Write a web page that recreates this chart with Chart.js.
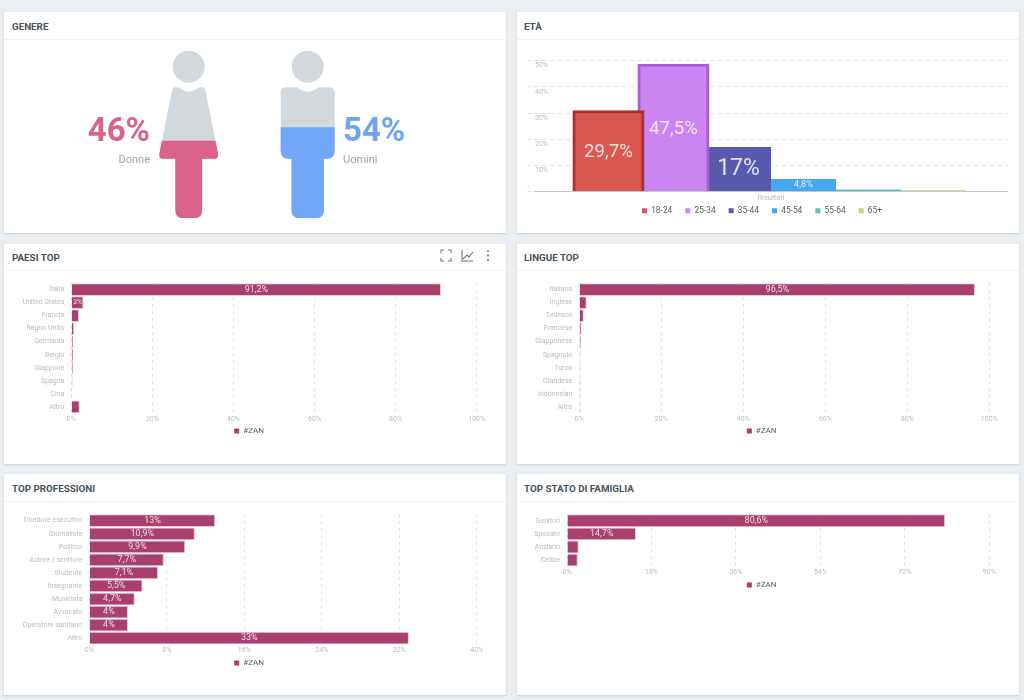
<!DOCTYPE html>
<html lang="it">
<head>
<meta charset="utf-8">
<title>Audience #ZAN</title>
<script src="https://cdn.jsdelivr.net/npm/chart.js@4"></script>
<style>
html, body { margin: 0; padding: 0; background: #ebeff2; overflow: hidden; }
body { width: 1024px; height: 700px; position: relative; font-family: Roboto, sans-serif; }
.card { position: absolute; background: #fff; box-shadow: 0 1px 2px rgba(90, 100, 110, .25); }
.card h2 { margin: 0; position: absolute; left: 8px; font-size: 9.8px; line-height: 12px; font-weight: 700; color: #48525a; white-space: nowrap; }
.card hr { margin: 0; border: 0; border-top: 1px solid #eff1f3; position: absolute; left: 0; right: 0; }
canvas { position: absolute; }
.big { position: absolute; font-size: 33px; line-height: 36px; font-weight: 700; }
.small { position: absolute; font-size: 11px; line-height: 14px; color: #9aa6b0; }
.icons { position: absolute; left: 440px; top: 249px; }
</style>
</head>
<body>

<div class="card" style="left:4px;top:12px;width:502px;height:221px"><h2 style="top:9px">GENERE</h2><hr style="top:27px"></div>
<div class="card" style="left:517px;top:12px;width:502px;height:221px"><h2 style="top:9px;left:7px">ETÀ</h2><hr style="top:27px"></div>
<div class="card" style="left:4px;top:244px;width:502px;height:220px"><h2 style="top:8px">PAESI TOP</h2><hr style="top:26px"></div>
<div class="card" style="left:517px;top:244px;width:502px;height:220px"><h2 style="top:8px;left:7px">LINGUE TOP</h2><hr style="top:26px"></div>
<div class="card" style="left:4px;top:474px;width:502px;height:221px"><h2 style="top:9px">TOP PROFESSIONI</h2><hr style="top:27px"></div>
<div class="card" style="left:517px;top:474px;width:502px;height:221px"><h2 style="top:9px;left:7px">TOP STATO DI FAMIGLIA</h2><hr style="top:27px"></div>

<svg class="icons" width="56" height="14" viewBox="0 0 56 14" fill="none" stroke="#6d7780" stroke-width="1.1">
  <path d="M1 4V1h3M8 1h3v3M11 9v3H8M4 12H1V9"/>
  <path d="M22 1v11h11M23 10l4-4 2 2 4-5"/>
  <g fill="#6d7780" stroke="none"><circle cx="48" cy="2" r="1.1"/><circle cx="48" cy="6.5" r="1.1"/><circle cx="48" cy="11" r="1.1"/></g>
</svg>

<canvas id="chartGenere" style="left:4px;top:41px"></canvas>
<div class="big" id="pctDonne" style="left:70px;width:80px;top:112px;text-align:right;color:#db6288"></div>
<div class="small" id="lblDonne" style="left:90px;width:60px;top:153px;text-align:right"></div>
<div class="big" id="pctUomini" style="left:343px;top:112px;color:#6ea4f8"></div>
<div class="small" id="lblUomini" style="left:343px;top:153px"></div>

<canvas id="chartEta" style="left:516px;top:41px"></canvas>
<canvas id="chartPaesi" style="left:4px;top:272px"></canvas>
<canvas id="chartLingue" style="left:517px;top:272px"></canvas>
<canvas id="chartProfessioni" style="left:4px;top:503px"></canvas>
<canvas id="chartFamiglia" style="left:517px;top:503px"></canvas>

<script>
// dati
const genereLabels = ['Donne', 'Uomini'];
const generePercent = [46, 54];
const genereFondo = [100, 100];

const etaLabels = ['18-24', '25-34', '35-44', '45-54', '55-64', '65+'];
const etaValues = [29.7, 47.5, 17, 4.8, 0.8, 0.5];
const etaColors = ['#da5850', '#cb84f1', '#5a59b0', '#46a8ef', '#58c6c0', '#c4d96c'];
const etaTicks = [0, 10, 20, 30, 40, 50];

const paesiLabels = ['Italia', 'United States', 'Francia', 'Regno Unito', 'Germania', 'Belgio', 'Giappone', 'Spagna', 'Cina', 'Altro'];
const paesiValues = [91.2, 3, 1.9, 0.7, 0.5, 0.5, 0.4, 0.3, 0.2, 2.1];

const lingueLabels = ['Italiano', 'Inglese', 'Tedesco', 'Francese', 'Giapponese', 'Spagnolo', 'Turco', 'Olandese', 'Indonesian', 'Altro'];
const lingueValues = [96.5, 1.8, 1.1, 0.55, 0.4, 0.3, 0.3, 0.3, 0.3, 0.3];

const professioniLabels = ['Direttore esecutivo', 'Giornalista', 'Politico', 'Autore / scrittore', 'Studente', 'Insegnante', 'Musicista', 'Avvocato', 'Operatore sanitario', 'Altro'];
const professioniValues = [13, 10.9, 9.9, 7.7, 7.1, 5.5, 4.7, 4, 4, 33];

const famigliaLabels = ['Genitori', 'Sposato', 'Anziano', 'Celibe'];
const famigliaValues = [80.6, 14.7, 2.5, 2.3];

const ZAN = '#a83f6d';
const TICK = '#b7bdc2';
Chart.defaults.font.family = 'Roboto, sans-serif';
Chart.defaults.animation = false;
Chart.defaults.devicePixelRatio = 1;

function setSize(id, w, h) {
    const c = document.getElementById(id);
    c.width = w;
    c.height = h;
    c.style.width = w + 'px';
    c.style.height = h + 'px';
    return c;
}

function pct(v) {
    return String(v).replace('.', ',') + '%';
}

// scrive il valore dentro la barra
const barLabels = {
    id: 'barLabels',
    afterDatasetsDraw(chart, args, opts) {
        const ctx = chart.ctx;
        ctx.save();
        ctx.textAlign = 'center';
        ctx.textBaseline = 'middle';
        ctx.fillStyle = 'rgba(255,255,255,.82)';
        chart.data.datasets.forEach(function(ds, d) {
            chart.getDatasetMeta(d).data.forEach(function(bar, i) {
                const v = ds.data[i];
                if (v < 3) return;
                const horizontal = chart.options.indexAxis === 'y';
                const len = horizontal ? bar.x - bar.base : bar.width;
                let size = opts.sizes ? opts.sizes[d] : opts.size;
                ctx.font = size + 'px Roboto, sans-serif';
                const w = ctx.measureText(pct(v)).width;
                if (w > len * 0.75) {
                    size = size * len * 0.75 / w;
                    ctx.font = size + 'px Roboto, sans-serif';
                }
                if (horizontal) ctx.fillText(pct(v), (bar.x + bar.base) / 2, bar.y);
                else ctx.fillText(pct(v), bar.x, (bar.y + bar.base) / 2);
            });
        });
        ctx.restore();
    }
};

function legendLabels(chart) {
    return chart.data.datasets.map(function(ds, i) {
        return {
            text: ds.label,
            fillStyle: ds.backgroundColor,
            strokeStyle: ds.backgroundColor,
            lineWidth: 0,
            fontColor: '#55616f',
            datasetIndex: i
        };
    });
}

function hbar(id, labels, values, max, step, box) {
    const c = setSize(id, box.w, box.h);
    new Chart(c, {
        type: 'bar',
        plugins: [barLabels],
        data: {
            labels: labels,
            datasets: [{
                label: '#ZAN',
                data: values,
                backgroundColor: ZAN,
                borderColor: '#e9c9d8',
                borderWidth: 1,
                borderSkipped: 'start',
                categoryPercentage: 1,
                barPercentage: 0.98
            }]
        },
        options: {
            indexAxis: 'y',
            responsive: false,
            layout: { padding: { left: box.pad, right: box.right, top: box.top, bottom: 0 } },
            scales: {
                x: {
                    min: 0,
                    max: max,
                    afterFit(s) { s.height = box.xh; },
                    grid: { color: '#dfe1e3', drawTicks: false, tickLength: 0 },
                    border: { display: false, dash: [3, 4] },
                    ticks: {
                        stepSize: step,
                        maxRotation: 0,
                        padding: 1.8,
                        color: TICK,
                        font: { size: 7 },
                        callback: function(v) { return v + '%'; }
                    }
                },
                y: {
                    afterFit(s) { s.width = box.left - box.pad; },
                    grid: { display: false, drawTicks: false, tickLength: 0 },
                    border: { display: false },
                    ticks: { autoSkip: false, padding: 7, color: TICK, font: { size: 7 } }
                }
            },
            plugins: {
                barLabels: { size: 9 },
                tooltip: { enabled: false },
                legend: {
                    position: 'bottom',
                    labels: {
                        boxWidth: 5,
                        boxHeight: 5,
                        padding: 5,
                        font: { size: 8 },
                        generateLabels: legendLabels
                    }
                }
            }
        }
    });
}

hbar('chartPaesi', paesiLabels, paesiValues, 100, 20, { w: 490, h: 173, left: 67.3, pad: 17.4, right: 17.3, top: 8.7, xh: 8.7 });
hbar('chartLingue', lingueLabels, lingueValues, 100, 20, { w: 489, h: 173, left: 62.3, pad: 17.1, right: 16.7, top: 8.7, xh: 8.7 });
hbar('chartProfessioni', professioniLabels, professioniValues, 40, 8, { w: 490, h: 174, left: 85.3, pad: 17.4, right: 17.3, top: 9, xh: 9.3 });
hbar('chartFamiglia', famigliaLabels, famigliaValues, 90, 18, { w: 489, h: 96, left: 50, pad: 17.1, right: 16.7, top: 9, xh: 9.3 });

// istogramma età: una sola categoria, barre affiancate
const etaWide = [true, true, false, false, false, false];
const etaCategories = ['Risultati'];
new Chart(setSize('chartEta', 492, 184), {
    type: 'bar',
    plugins: [barLabels],
    data: {
        labels: etaCategories,
        datasets: etaLabels.map(function(label, i) {
            return {
                label: label,
                data: [etaValues[i]],
                backgroundColor: etaColors[i],
                borderColor: ['#ae2d31', '#a45fd6'][i] || etaColors[i],
                borderWidth: etaWide[i] ? 3 : 0,
                inflateAmount: etaWide[i] ? 3.5 : 0,
                categoryPercentage: 0.823,
                barPercentage: 1
            };
        })
    },
    options: {
        responsive: false,
        layout: { padding: { left: 0, right: 0, top: 19.7, bottom: 0 } },
        scales: {
            x: {
                afterFit(s) { s.height = 2; },
                grid: { display: false },
                border: { color: '#c4c8cb' },
                ticks: { display: false },
                title: { display: true, text: etaCategories[0], color: TICK, font: { size: 7.5 }, padding: { top: 0, bottom: -9 } }
            },
            y: {
                min: 0,
                max: 50,
                afterFit(s) { s.width = 18; },
                grid: { color: '#dfe1e3', tickColor: '#dfe1e3', tickLength: 7, tickBorderDash: [4, 4] },
                border: { display: false, dash: [4, 4] },
                afterBuildTicks(s) { s.ticks = etaTicks.map(function(v) { return { value: v }; }); },
                ticks: {
                    mirror: true,
                    padding: 1,
                    labelOffset: 5,
                    color: TICK,
                    font: { size: 7 },
                    callback: function(v) { return v === 0 ? '' : v + '%'; }
                }
            }
        },
        plugins: {
            barLabels: { sizes: [19.5, 19.5, 23, 9.2] },
            tooltip: { enabled: false },
            legend: {
                position: 'bottom',
                labels: {
                    boxWidth: 5,
                    boxHeight: 5,
                    padding: 13,
                    font: { size: 8.4 },
                    generateLabels: legendLabels
                }
            }
        }
    }
});

// omino e donnina: le barre sono ritagliate sulla sagoma
function sagoma(ctx, cx, top, female) {
    const p = new Path2D();
    const X = function(d) { return cx + d; };
    const Y = function(d) { return top + d; };
    p.arc(X(0), Y(16.2), 16, 0, Math.PI * 2);
    p.closePath();
    if (female) {
        p.moveTo(X(-9.7), Y(36.8));
        p.quadraticCurveTo(X(0), Y(45.5), X(9.7), Y(36.8));
        p.lineTo(X(13), Y(36.8));
        p.quadraticCurveTo(X(16), Y(36.8), X(16.7), Y(40));
        p.lineTo(X(29.4), Y(103.5));
        p.quadraticCurveTo(X(30), Y(108.2), X(26), Y(108.2));
        p.lineTo(X(13.4), Y(108.2));
        p.lineTo(X(13.4), Y(159.8));
        p.quadraticCurveTo(X(13.4), Y(167.8), X(5.4), Y(167.8));
        p.lineTo(X(-5.4), Y(167.8));
        p.quadraticCurveTo(X(-13.4), Y(167.8), X(-13.4), Y(159.8));
        p.lineTo(X(-13.4), Y(108.2));
        p.lineTo(X(-26), Y(108.2));
        p.quadraticCurveTo(X(-30), Y(108.2), X(-29.4), Y(103.5));
        p.lineTo(X(-16.7), Y(40));
        p.quadraticCurveTo(X(-16), Y(36.8), X(-13), Y(36.8));
    } else {
        p.moveTo(X(-10.7), Y(36.8));
        p.quadraticCurveTo(X(0), Y(45.5), X(10.7), Y(36.8));
        p.lineTo(X(21), Y(36.8));
        p.quadraticCurveTo(X(27), Y(36.8), X(27), Y(42.8));
        p.lineTo(X(27), Y(100.2));
        p.quadraticCurveTo(X(27), Y(108.2), X(19), Y(108.2));
        p.lineTo(X(16.2), Y(108.2));
        p.lineTo(X(16.2), Y(159.8));
        p.quadraticCurveTo(X(16.2), Y(167.8), X(8.2), Y(167.8));
        p.lineTo(X(-8.2), Y(167.8));
        p.quadraticCurveTo(X(-16.2), Y(167.8), X(-16.2), Y(159.8));
        p.lineTo(X(-16.2), Y(108.2));
        p.lineTo(X(-19), Y(108.2));
        p.quadraticCurveTo(X(-27), Y(108.2), X(-27), Y(100.2));
        p.lineTo(X(-27), Y(42.8));
        p.quadraticCurveTo(X(-27), Y(36.8), X(-21), Y(36.8));
    }
    p.closePath();
    return p;
}

const clipSagoma = {
    id: 'clipSagoma',
    beforeDatasetDraw(chart) {
        const ctx = chart.ctx;
        const x = chart.scales.x;
        const top = chart.scales.y.getPixelForValue(100);
        const all = new Path2D();
        all.addPath(sagoma(ctx, x.getPixelForValue(0), top, true));
        all.addPath(sagoma(ctx, x.getPixelForValue(1), top, false));
        ctx.save();
        ctx.clip(all);
    },
    afterDatasetDraw(chart) {
        chart.ctx.restore();
    }
};

new Chart(setSize('chartGenere', 502, 190), {
    type: 'bar',
    plugins: [clipSagoma],
    data: {
        labels: genereLabels,
        datasets: [
            { data: generePercent, backgroundColor: ['#db6288', '#72a6f8'], grouped: false, barThickness: 119 },
            { data: genereFondo, backgroundColor: '#d2d8dc', grouped: false, barThickness: 119 }
        ]
    },
    options: {
        responsive: false,
        layout: { padding: { left: 125.2, right: 138.8, top: 9.5, bottom: 12.7 } },
        scales: {
            x: { display: false },
            y: { display: false, min: 0, max: 100 }
        },
        plugins: { legend: { display: false }, tooltip: { enabled: false } }
    }
});

document.getElementById('pctDonne').textContent = generePercent[0] + '%';
document.getElementById('pctUomini').textContent = generePercent[1] + '%';
document.getElementById('lblDonne').textContent = genereLabels[0];
document.getElementById('lblUomini').textContent = genereLabels[1];
</script>
</body>
</html>
